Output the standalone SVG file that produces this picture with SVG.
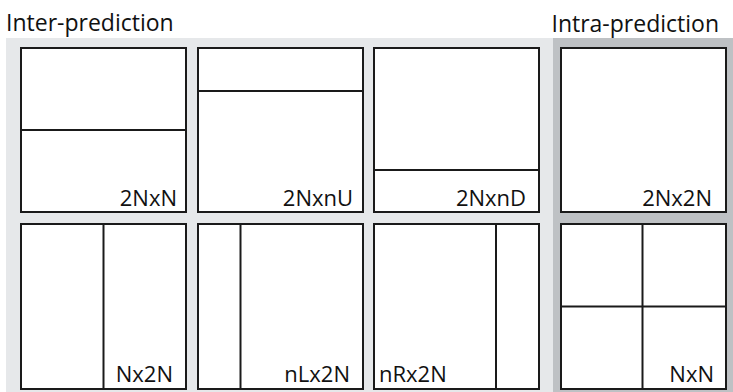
<svg xmlns="http://www.w3.org/2000/svg" width="733" height="392" viewBox="0 0 733 392">
<style>
.box{fill:#fff;stroke:#1a1a1a;stroke-width:2}
.div{stroke:#1a1a1a;stroke-width:2;fill:none}
.lbl{font-family:"Open Sans","Liberation Sans",sans-serif;font-size:22px;fill:#111}
.ttl{font-family:"Open Sans","Liberation Sans",sans-serif;font-size:23px;fill:#111}
</style>
<rect width="733" height="392" fill="#fff"/>
<rect x="6" y="38" width="547" height="354" fill="#e6e8ea"/>
<rect x="553" y="38" width="180" height="354" fill="#bec1c4"/>
<text class="ttl" x="6" y="31">Inter-prediction</text>
<text class="ttl" x="719" y="32" text-anchor="end">Intra-prediction</text>
<g id="n2NxN">
<rect class="box" x="21" y="48" width="165" height="164"/>
<line class="div" x1="21" y1="130" x2="186" y2="130"/>
<text class="lbl" x="177" y="206" text-anchor="end">2NxN</text>
</g>
<g id="n2NxnU">
<rect class="box" x="198" y="48" width="165" height="164"/>
<line class="div" x1="198" y1="91" x2="363" y2="91"/>
<text class="lbl" x="353" y="206" text-anchor="end">2NxnU</text>
</g>
<g id="n2NxnD">
<rect class="box" x="374" y="48" width="165" height="164"/>
<line class="div" x1="374" y1="170" x2="539" y2="170"/>
<text class="lbl" x="526" y="206" text-anchor="end">2NxnD</text>
</g>
<g id="n2Nx2N">
<rect class="box" x="561" y="48" width="165" height="164"/>
<text class="lbl" x="712" y="206" text-anchor="end">2Nx2N</text>
</g>
<g id="nNx2N">
<rect class="box" x="21" y="224" width="165" height="165"/>
<line class="div" x1="103.5" y1="224" x2="103.5" y2="389"/>
<text class="lbl" x="173" y="382" text-anchor="end">Nx2N</text>
</g>
<g id="nnLx2N">
<rect class="box" x="198" y="224" width="165" height="165"/>
<line class="div" x1="240.5" y1="224" x2="240.5" y2="389"/>
<text class="lbl" x="350" y="382" text-anchor="end">nLx2N</text>
</g>
<g id="nnRx2N">
<rect class="box" x="374" y="224" width="165" height="165"/>
<line class="div" x1="496" y1="224" x2="496" y2="389"/>
<text class="lbl" x="379" y="382">nRx2N</text>
</g>
<g id="nNxN">
<rect class="box" x="561" y="224" width="165" height="165"/>
<line class="div" x1="642.5" y1="224" x2="642.5" y2="389"/>
<line class="div" x1="561" y1="306.5" x2="726" y2="306.5"/>
<text class="lbl" x="714" y="382" text-anchor="end">NxN</text>
</g>
<g id="connectors"/>
</svg>
